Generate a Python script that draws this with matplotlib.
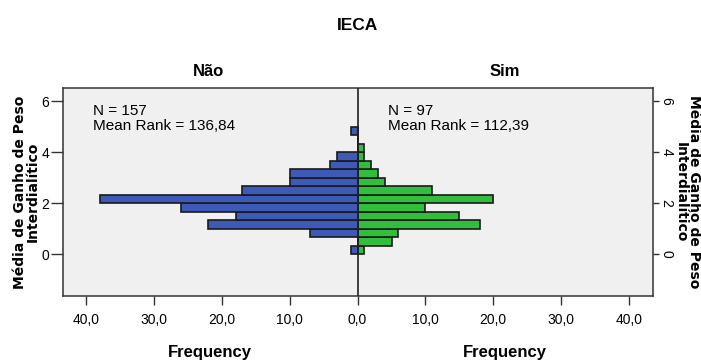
import numpy as np
import matplotlib
matplotlib.use("Agg")
import matplotlib.pyplot as plt
from matplotlib import font_manager

# Histogram of "Média de Ganho de Peso Interdialítico" split by IECA group
bin_width = 1 / 3
bin_starts = np.arange(15) * bin_width
nao_counts = [1, 0, 7, 22, 18, 26, 38, 17, 10, 10, 4, 3, 0, 0, 1]
sim_counts = [1, 5, 6, 18, 15, 10, 20, 11, 4, 3, 2, 1, 1, 0, 0]
groups = ["Não", "Sim"]
group_stats = ["N = 157\nMean Rank = 136,84", "N = 97\nMean Rank = 112,39"]
x_ticks = [-40, -30, -20, -10, 0, 10, 20, 30, 40]
x_tick_labels = ["40,0", "30,0", "20,0", "10,0", "0,0", "10,0", "20,0", "30,0", "40,0"]
y_ticks = [0, 2, 4, 6]
title = "IECA"
y_label = "Média de Ganho de Peso\nInterdialítico"
x_label = "Frequency"

available = {f.name for f in font_manager.fontManager.ttflist}
narrow = "Liberation Sans Narrow" if "Liberation Sans Narrow" in available else "Liberation Sans"
plt.rcParams["font.family"] = [narrow, "DejaVu Sans"]

blue = "#3D5AB8"
green = "#30BE3C"
edge = "#1A1A1A"

fig = plt.figure(figsize=(7.01, 3.63), dpi=100)
fig.patch.set_facecolor("white")
ax = fig.add_axes([62.6 / 701, 1 - 295.7 / 363, 590 / 701, 207.7 / 363])
ax.set_facecolor("#F0F0F0")

centers = bin_starts + bin_width / 2
ax.barh(centers, [-c for c in nao_counts], height=bin_width, color=blue,
        edgecolor=edge, linewidth=1.2, zorder=2)
ax.barh(centers, sim_counts, height=bin_width, color=green,
        edgecolor=edge, linewidth=1.2, zorder=2)
ax.axvline(0, color="#222222", linewidth=1.2, zorder=3)

ax.set_xlim(-43.5, 43.5)
ax.set_ylim(-1.62, 6.52)
ax.set_xticks(x_ticks)
ax.set_xticklabels(x_tick_labels)
ax.set_yticks(y_ticks)
ax.tick_params(axis="x", direction="out", length=6.5, width=1.0, color="#333333",
               labelsize=10, pad=6)
ax.tick_params(axis="y", direction="out", length=8.5, width=1.0, color="#333333",
               labelsize=10, pad=1)
for s in ax.spines.values():
    s.set_color("#333333")
    s.set_linewidth(1.1)

ax2 = ax.twinx()
ax2.set_ylim(ax.get_ylim())
ax2.set_yticks(y_ticks)
ax2.tick_params(axis="y", direction="out", length=4.5, width=1.0, color="#333333",
                labelsize=10, pad=0.5)
for lbl in ax2.get_yticklabels():
    lbl.set_rotation(-90)
    lbl.set_va("center")
for s in ax2.spines.values():
    s.set_visible(False)

ax.text(0.052, 0.925, group_stats[0], transform=ax.transAxes, ha="left", va="top",
        fontsize=11, linespacing=1.1, zorder=4)
ax.text(0.552, 0.925, group_stats[1], transform=ax.transAxes, ha="left", va="top",
        fontsize=11, linespacing=1.1, zorder=4)

fig.text(357.7 / 701, 1 - 25 / 363, title, ha="center", va="center",
         fontsize=12.5, fontweight="bold")
fig.text(209 / 701, 1 - 72 / 363, groups[0], ha="center", va="center",
         fontsize=12, fontweight="bold")
fig.text(505 / 701, 1 - 72 / 363, groups[1], ha="center", va="center",
         fontsize=12, fontweight="bold")
fig.text(210 / 701, 1 - 353 / 363, x_label, ha="center", va="center",
         fontsize=12, fontweight="bold")
fig.text(505 / 701, 1 - 353 / 363, x_label, ha="center", va="center",
         fontsize=12, fontweight="bold")

fig.text(26.5 / 701, 1 - 192 / 363, y_label, ha="center", va="center", rotation=90,
         fontsize=10, fontweight="bold", linespacing=0.95,
         family=["DejaVu Sans"])
fig.text(687 / 701, 1 - 192 / 363, y_label, ha="center", va="center", rotation=-90,
         fontsize=10, fontweight="bold", linespacing=0.95,
         family=["DejaVu Sans"])

fig.savefig("out.png", dpi=100)
